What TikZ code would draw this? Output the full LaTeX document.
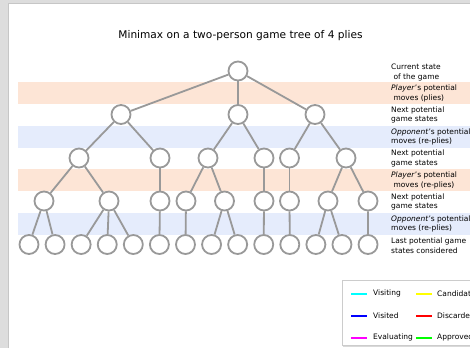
\documentclass[tikz,border=0pt]{standalone}
\usepackage{fontspec}
\setmainfont{DejaVu Sans}
\usepackage{tikz}
\definecolor{plyband}{RGB}{253,229,214}
\definecolor{replyband}{RGB}{229,236,252}
\definecolor{treegray}{RGB}{153,153,153}
\definecolor{pagegray}{RGB}{221,221,221}
\definecolor{keygray}{RGB}{204,204,204}
\definecolor{visiting}{RGB}{0,255,255}
\definecolor{visited}{RGB}{0,0,255}
\definecolor{evaluating}{RGB}{255,0,255}
\definecolor{candidate}{RGB}{255,255,0}
\definecolor{discarded}{RGB}{255,0,0}
\definecolor{approved}{RGB}{0,255,0}
\tikzset{
  state/.style={circle, draw=treegray, fill=white, line width=1.8pt, minimum size=19pt, inner sep=0pt},
  edge/.style={draw=treegray, line width=1.8pt},
  rowlabel/.style={anchor=west, align=left, inner sep=0pt, font=\fontsize{7.5}{9.5}\selectfont},
  keylabel/.style={anchor=west, inner sep=0pt, font=\fontsize{7.5}{9}\selectfont},
  keyline/.style={line width=1.6pt},
}

\begin{document}
\begin{tikzpicture}[x=1pt, y=-1pt]
  \useasboundingbox (0,0) rectangle (470,348);
  \clip (0,0) rectangle (470,348);
  % page
  \fill[pagegray] (0,0) rectangle (470,348);
  \fill[white] (8,3) rectangle (470,348);
  \draw[gray!45, line width=0.6pt] (8,348) -- (8,3) -- (470,3);
  % bands
  \fill[plyband] (18,82) rectangle (470,104);
  \fill[replyband] (18,126) rectangle (470,147.5);
  \fill[plyband] (18,169) rectangle (470,191);
  \fill[replyband] (18,213) rectangle (470,234.5);

  \node[font=\fontsize{10.6}{12}\selectfont] (title) at (240.5,36) {Minimax on a two-person game tree of 4 plies};

  % tree
  \node[state] (r) at (238,71) {};
  \node[state] (a1) at (121,114.5) {};
  \node[state] (a2) at (238,114.5) {};
  \node[state] (a3) at (315,114.5) {};
  \node[state] (b1) at (79,158) {};
  \node[state] (b2) at (160,158) {};
  \node[state] (b3) at (208,158) {};
  \node[state] (b4) at (264,158) {};
  \node[state] (b5) at (289.5,158) {};
  \node[state] (b6) at (346,158) {};
  \node[state] (c1) at (44,201) {};
  \node[state] (c2) at (109,201) {};
  \node[state] (c3) at (160,201) {};
  \node[state] (c4) at (186,201) {};
  \node[state] (c5) at (224.5,201) {};
  \node[state] (c6) at (264,201) {};
  \node[state] (c7) at (289.5,201) {};
  \node[state] (c8) at (328,201) {};
  \node[state] (c9) at (368,201) {};
  \foreach \i in {1,...,14}
    \node[state] (d\i) at ({29+26.08*(\i-1)},244.5) {};

  \foreach \p/\c in {r/a1, r/a2, r/a3, a1/b1, a1/b2, a2/b3, a2/b4, a3/b5, a3/b6,
                     b1/c1, b1/c2, b2/c3, b3/c4, b3/c5, b4/c6, b5/c7, b6/c8, b6/c9,
                     c1/d1, c1/d2, c2/d3, c2/d4, c2/d5, c3/d6, c4/d7, c5/d8, c5/d9,
                     c6/d10, c7/d11, c8/d12, c8/d13, c9/d14}
    \draw[edge] (\p) -- (\c);

  % row labels
  \node[rowlabel] (l1) at (391,72.5) {Current state\\\ of the game};
  \node[rowlabel] (l2) at (391,93.5) {\textit{Player}'s potential\\\ moves (plies)};
  \node[rowlabel] (l3) at (391,115) {Next potential\\game states};
  \node[rowlabel] (l4) at (391,137) {\textit{Opponent}'s potential\\moves (re-plies)};
  \node[rowlabel] (l5) at (391,158.5) {Next potential\\game states};
  \node[rowlabel] (l6) at (391,180.5) {\textit{Player}'s potential\\\ moves (re-plies)};
  \node[rowlabel] (l7) at (391,202) {Next potential\\game states};
  \node[rowlabel] (l8) at (391,224) {\textit{Opponent}'s potential\\moves (re-plies)};
  \node[rowlabel] (l9) at (391,245.5) {Last potential game\\states considered};

  % key
  \fill[gray!30] (343,281) rectangle (482,347);
  \draw[keygray, fill=white, line width=0.6pt] (342,280) rectangle (481,345.5);
  \draw[keyline, visiting] (351,294) -- (367,294);
  \node[keylabel] (k1) at (373,293.5) {Visiting};
  \draw[keyline, visited] (351,316) -- (367,316);
  \node[keylabel] (k2) at (373,315.5) {Visited};
  \draw[keyline, evaluating] (351,338) -- (367,338);
  \node[keylabel] (k3) at (373,337.5) {Evaluating};
  \draw[keyline, candidate] (416,294) -- (432,294);
  \node[keylabel] (k4) at (437,293.5) {Candidate};
  \draw[keyline, discarded] (416,316) -- (432,316);
  \node[keylabel] (k5) at (437,315.5) {Discarded};
  \draw[keyline, approved] (416,338) -- (432,338);
  \node[keylabel] (k6) at (437,337.5) {Approved};
\end{tikzpicture}
\end{document}
